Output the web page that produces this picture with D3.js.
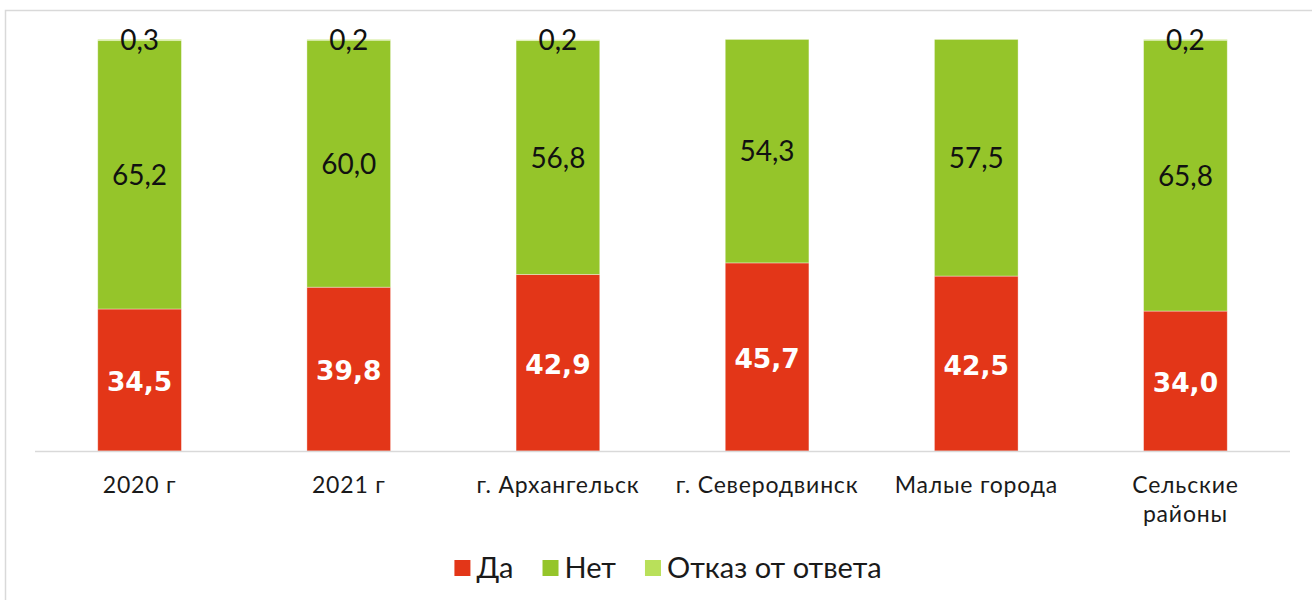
<!DOCTYPE html>
<html>
<head>
<meta charset="utf-8">
<script src="https://cdn.jsdelivr.net/npm/d3@7"></script>
<style>
  body { margin: 0; background: #fff; }
  svg { display: block; }
  text { font-family: "Lato", "Open Sans", sans-serif; fill: #1a1a1a; }
</style>
</head>
<body>
<div id="view"></div>
<script>
const categories = ['2020 г', '2021 г', 'г. Архангельск', 'г. Северодвинск', 'Малые города', 'Сельские районы'];
const seriesNames = ['Да', 'Нет', 'Отказ от ответа'];
const yes = [34.5, 39.8, 42.9, 45.7, 42.5, 34.0];
const no = [65.2, 60.0, 56.8, 54.3, 57.5, 65.8];
const refused = [0.3, 0.2, 0.2, 0, 0, 0.2];
const colors = ['#e33618', '#95c52a', '#b9e05a'];

const W = 1312, H = 600;
const svg = d3.select('#view').append('svg').attr('width', W).attr('height', H);

// chart frame (cut off on right and bottom)
svg.append('rect')
  .attr('x', 5.5).attr('y', 10.5)
  .attr('width', W + 20).attr('height', H + 20)
  .attr('fill', 'none').attr('stroke', '#d9d9d9').attr('stroke-width', 1.5);

const rows = categories.map((c, i) => ({cat: c, 'Да': yes[i], 'Нет': no[i], 'Отказ от ответа': refused[i]}));
const stack = d3.stack().keys(seriesNames)(rows);

const x = d3.scaleBand().domain(categories).range([35, 1290]).paddingInner(0.6).paddingOuter(0.3);
const y = d3.scaleLinear().domain([0, 100]).range([451, 39.4]);
const fmt = v => d3.format('.1f')(v).replace('.', ',');

const layer = svg.selectAll('g.layer').data(stack).enter().append('g')
  .attr('class', 'layer').attr('fill', (d, i) => colors[i]);

layer.selectAll('rect').data(d => d.map(s => ({s, key: d.key}))).enter().append('rect')
  .attr('x', d => x(d.s.data.cat))
  .attr('width', x.bandwidth())
  .attr('y', d => y(d.s[1]))
  .attr('height', d => y(d.s[0]) - y(d.s[1]))
  .attr('stroke', 'rgba(255,255,255,0.45)')
  .attr('stroke-width', 0.8);

// baseline
svg.append('line')
  .attr('x1', 35).attr('x2', 1290).attr('y1', y(0) + 0.5).attr('y2', y(0) + 0.5)
  .attr('stroke', '#d9d9d9').attr('stroke-width', 1.5);

// value labels
stack.forEach((ser, si) => {
  ser.forEach(s => {
    const v = s[1] - s[0];
    if (v <= 0) return;
    const t = svg.append('text')
      .attr('x', x(s.data.cat) + x.bandwidth() / 2)
      .attr('y', (y(s[0]) + y(s[1])) / 2)
      .attr('text-anchor', 'middle')
      .attr('dy', '0.36em')
      .text(fmt(v));
    if (si === 0) {
      t.style('font-family', '"DejaVu Sans", sans-serif').style('font-weight', 'bold')
        .style('font-size', '26.5px').style('fill', '#fff').attr('dy', '0.42em');
    } else {
      t.style('font-size', '28px').style('fill', '#111');
    }
  });
});

// category labels
const wrap = {'Сельские районы': ['Сельские', 'районы']};
categories.forEach(c => {
  const lines = wrap[c] || [c];
  const t = svg.append('text')
    .attr('x', x(c) + x.bandwidth() / 2)
    .attr('y', 493)
    .attr('text-anchor', 'middle')
    .style('font-size', '23px')
    .style('letter-spacing', '0.8px');
  lines.forEach((l, i) => t.append('tspan')
    .attr('x', x(c) + x.bandwidth() / 2)
    .attr('dy', i ? 29 : 0)
    .text(l));
});

// legend
const legend = svg.append('g');
let lx = 0;
seriesNames.forEach((n, i) => {
  const g = legend.append('g').attr('transform', `translate(${lx},0)`);
  g.append('rect').attr('x', 0).attr('y', -8).attr('width', 16).attr('height', 16).attr('fill', colors[i]);
  const t = g.append('text').attr('x', 22).attr('y', 0).attr('dy', '0.36em')
    .style('font-size', '29px').text(n);
  lx += 22 + t.node().getComputedTextLength() + 29;
});
lx -= 29;
legend.attr('transform', `translate(${668 - lx / 2},568)`);
</script>
</body>
</html>
